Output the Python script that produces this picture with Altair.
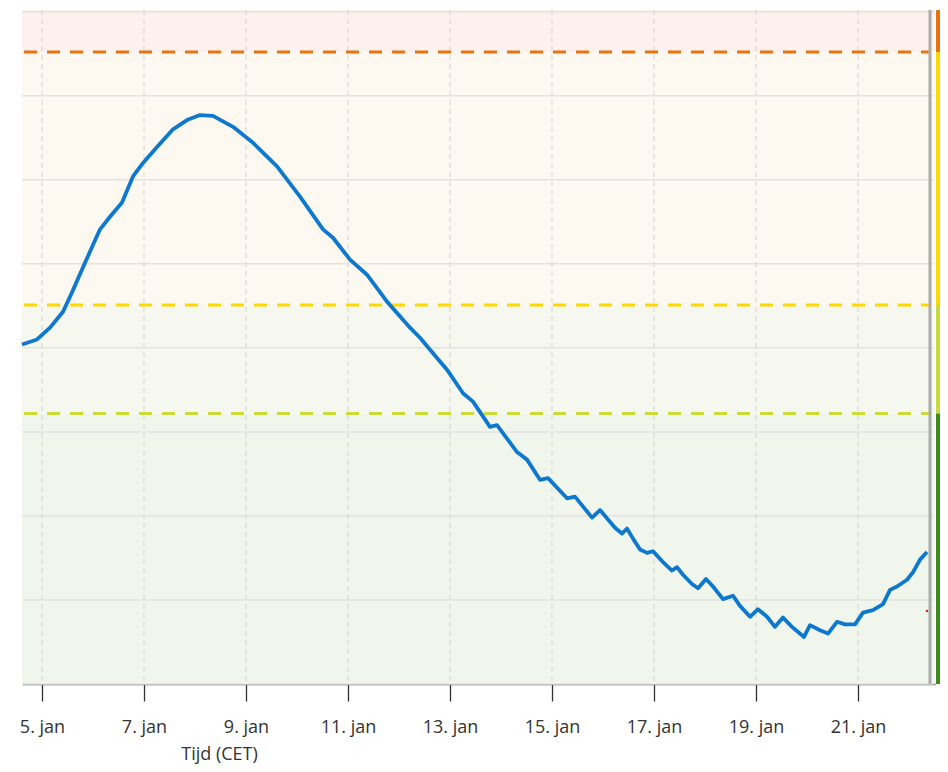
import altair as alt
import pandas as pd

# ---- data ----
times = [
    "2025-01-04T14:35", "2025-01-04T21:39", "2025-01-05T03:46", "2025-01-05T09:53",
    "2025-01-05T14:07", "2025-01-05T19:18", "2025-01-06T03:18", "2025-01-06T08:00",
    "2025-01-06T13:39", "2025-01-06T18:49", "2025-01-06T23:32", "2025-01-07T06:07",
    "2025-01-07T13:39", "2025-01-07T20:14", "2025-01-08T02:21", "2025-01-08T08:28",
    "2025-01-08T17:53", "2025-01-09T03:18", "2025-01-09T14:35", "2025-01-10T01:25",
    "2025-01-10T12:14", "2025-01-10T16:56", "2025-01-11T00:56", "2025-01-11T08:56",
    "2025-01-11T18:21", "2025-01-12T05:11", "2025-01-12T09:53", "2025-01-12T17:53",
    "2025-01-12T22:35", "2025-01-13T06:07", "2025-01-13T10:49", "2025-01-13T18:49",
    "2025-01-13T22:07", "2025-01-14T07:32", "2025-01-14T12:14", "2025-01-14T18:21",
    "2025-01-14T22:07", "2025-01-15T07:04", "2025-01-15T10:49", "2025-01-15T18:49",
    "2025-01-15T22:35", "2025-01-16T05:39", "2025-01-16T08:56", "2025-01-16T11:18",
    "2025-01-16T14:07", "2025-01-16T17:25", "2025-01-16T20:42", "2025-01-16T23:32",
    "2025-01-17T04:14", "2025-01-17T08:28", "2025-01-17T10:49", "2025-01-17T13:39",
    "2025-01-17T17:53", "2025-01-17T20:42", "2025-01-18T00:28", "2025-01-18T03:46",
    "2025-01-18T08:28", "2025-01-18T13:11", "2025-01-18T16:28", "2025-01-18T21:11",
    "2025-01-19T00:56", "2025-01-19T05:11", "2025-01-19T08:56", "2025-01-19T12:42",
    "2025-01-19T16:56", "2025-01-19T22:35", "2025-01-20T01:25", "2025-01-20T06:07",
    "2025-01-20T09:53", "2025-01-20T14:07", "2025-01-20T17:53", "2025-01-20T22:35",
    "2025-01-21T02:21", "2025-01-21T07:04", "2025-01-21T11:46", "2025-01-21T15:04",
    "2025-01-21T18:21", "2025-01-21T23:04", "2025-01-22T01:53", "2025-01-22T05:11",
    "2025-01-22T08:28",
]
levels = [
    40.4, 41.0, 42.4, 44.3, 46.6, 49.6, 54.1, 55.6,
    57.3, 60.4, 62.0, 63.9, 66.0, 67.1, 67.7, 67.6,
    66.3, 64.4, 61.6, 58.0, 54.1, 53.1, 50.5, 48.7,
    45.5, 42.4, 41.2, 38.8, 37.4, 34.6, 33.6, 30.6,
    30.8, 27.6, 26.7, 24.3, 24.5, 22.1, 22.3, 19.8,
    20.7, 18.6, 17.9, 18.5, 17.3, 16.0, 15.6, 15.8,
    14.5, 13.5, 13.9, 13.0, 11.9, 11.4, 12.5, 11.6,
    10.1, 10.5, 9.3, 8.0, 8.9, 8.0, 6.8, 7.9,
    6.8, 5.6, 7.0, 6.4, 6.0, 7.4, 7.1, 7.1,
    8.5, 8.8, 9.5, 11.2, 11.6, 12.4, 13.3, 14.8,
    15.7,
]

band_lo = [75.2, 45.1, 32.2, 0.0]
band_hi = [80.2, 75.2, 45.1, 32.2]
band_fill = ["#fcf1ec", "#fdf9f0", "#f6f8ef", "#f1f6ec"]
bar_fill = ["#e8720c", "#ffd800", "#c8db3a", "#3b8c1c"]

threshold_values = [75.2, 45.1, 32.2]
threshold_colors = ["#e8740f", "#ffd800", "#cbdc38"]

y_grid = [0, 10, 20, 30, 40, 50, 60, 70, 80]
x_ticks = [5, 7, 9, 11, 13, 15, 17, 19, 21]  # January days

now_time = ["2025-01-22T09:53"]
marker_time = ["2025-01-22T08:28"]
marker_value = [8.7]

# ---- tables ----
line_df = pd.DataFrame({"t": times, "v": levels})
band_df = pd.DataFrame({"lo": band_lo, "hi": band_hi, "fill": band_fill, "bar": bar_fill})
thr_df = pd.DataFrame({"v": threshold_values, "c": threshold_colors})
ygrid_df = pd.DataFrame({"v": y_grid})
xgrid_df = pd.DataFrame({"t": [f"2025-01-{d:02d}T00:00" for d in x_ticks]})
now_df = pd.DataFrame({"t": now_time})
marker_df = pd.DataFrame({"t": marker_time, "v": marker_value})

W, H = 913, 674

xs = alt.Scale(
    domain=[alt.DateTime(year=2025, month=1, date=4, hours=14, minutes=35),
            alt.DateTime(year=2025, month=1, date=22, hours=12, minutes=14)],
    nice=False,
)
ys = alt.Scale(domain=[0, 80.2], nice=False, zero=False)

x_axis = alt.Axis(
    values=[alt.DateTime(year=2025, month=1, date=d) for d in x_ticks],
    format="%-d. jan",
    grid=False,
    title="Tijd (CET)",
    labelFont="Open Sans", labelFontSize=18, labelColor="#333333",
    labelBaseline="alphabetic", labelPadding=31, labelFlush=False,
    labelOverlap=False,
    tickSize=17, tickColor="#333333", tickWidth=1.3,
    domainColor="#666666", domainWidth=1.6,
    titleFont="Open Sans", titleFontSize=18, titleFontWeight="normal",
    titleColor="#333333", titleX=197, titleY=75,
    titleAlign="center", titleBaseline="alphabetic", titleAnchor="start",
)

def X():
    return alt.X("t:T", scale=xs, axis=x_axis)

bands = alt.Chart(band_df).mark_rect().encode(
    x=alt.value(0), x2=alt.value(W - 1),
    y=alt.Y("lo:Q", scale=ys, axis=None), y2="hi:Q",
    fill=alt.Fill("fill:N", scale=None),
)

hgrid = alt.Chart(ygrid_df).mark_rule(color="#e3e3e3", strokeWidth=1.5).encode(
    x=alt.value(0), x2=alt.value(W - 1),
    y=alt.Y("v:Q", scale=ys, axis=None),
)

vgrid = alt.Chart(xgrid_df).mark_rule(color="#d9d9d9", strokeWidth=1.2, strokeDash=[5, 4]).encode(
    x=X(),
)

thresholds = alt.Chart(thr_df).mark_rule(strokeWidth=3, strokeDash=[13, 10]).encode(
    x=alt.value(2), x2=alt.value(W - 4),
    y=alt.Y("v:Q", scale=ys, axis=None),
    color=alt.Color("c:N", scale=None),
)

colorbar = alt.Chart(band_df).mark_rect().encode(
    x=alt.value(W + 1), x2=alt.value(W + 5),
    y=alt.Y("lo:Q", scale=ys, axis=None), y2="hi:Q",
    fill=alt.Fill("bar:N", scale=None),
)

now_rule = alt.Chart(now_df).mark_rule(color="#ababab", strokeWidth=3).encode(
    x=X(),
)

line = alt.Chart(line_df).mark_line(color="#0c78cf", strokeWidth=3.8, strokeJoin="round").encode(
    x=X(),
    y=alt.Y("v:Q", scale=ys, axis=None),
)

marker = alt.Chart(marker_df).mark_point(filled=True, color="#d62020", size=6, opacity=1).encode(
    x=X(),
    y=alt.Y("v:Q", scale=ys, axis=None),
)

chart = alt.layer(
    bands, hgrid, vgrid, thresholds, colorbar, now_rule, line, marker
).properties(
    width=W, height=H,
    autosize=alt.AutoSizeParams(type="none"),
    padding={"left": 14, "top": 2, "right": 5, "bottom": 80},
).configure_view(stroke=None)

chart.save("out.html", embed_options={"renderer": "svg", "actions": False})
